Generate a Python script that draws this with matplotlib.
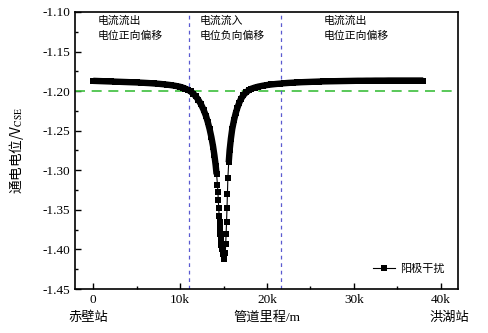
import matplotlib
matplotlib.use("Agg")
import matplotlib.pyplot as plt
import numpy as np

plt.rcParams['font.family'] = ['Liberation Serif', 'Noto Sans CJK SC']
plt.rcParams['mathtext.fontset'] = 'stix'
plt.rcParams['axes.unicode_minus'] = False

# Pipeline mileage (m) and on-potential (V vs CSE), anode interference survey
mileage_left = [0, 500, 1000, 1500, 2000, 2500, 3000, 3500, 4000, 4500, 5000, 5500,
                6000, 6500, 7000, 7500, 8000, 8500, 9000, 9500, 10000, 10300, 10600,
                10900, 11200, 11500, 11800, 12100, 12400, 12700, 13000, 13200, 13400,
                13600, 13800, 13950, 14100, 14200, 14300, 14350, 14400, 14450, 14500,
                14550, 14600, 14650, 14700, 14750, 14800, 14900, 15000]
potential_left = [-1.1870, -1.1872, -1.1874, -1.1876, -1.1878, -1.1880, -1.1882, -1.1884,
                  -1.1886, -1.1888, -1.1890, -1.1893, -1.1896, -1.1899, -1.1903, -1.1907,
                  -1.1912, -1.1918, -1.1925, -1.1934, -1.1945, -1.1955, -1.1968, -1.1983,
                  -1.2003, -1.2030, -1.2065, -1.2110, -1.2165, -1.2235, -1.2320, -1.2395,
                  -1.2480, -1.2580, -1.2700, -1.2810, -1.2940, -1.3050, -1.3180, -1.3270,
                  -1.3380, -1.3480, -1.3580, -1.3650, -1.3730, -1.3800, -1.3880, -1.3950,
                  -1.4000, -1.4060, -1.4120]
mileage_right = [15200, 15250, 15300, 15350, 15400, 15450, 15500, 15600, 15700, 15850,
                 16000, 16200, 16400, 16600, 16800, 17000, 17300, 17600, 17900, 18200,
                 18600, 19000, 19500, 20000, 20500, 21000, 21500, 22000, 22500, 23000,
                 23500, 24000, 24500, 25000, 25500, 26000, 26500, 27000, 27500, 28000,
                 28500, 29000, 29500, 30000, 30500, 31000, 31500, 32000, 32500, 33000,
                 33500, 34000, 34500, 35000, 35500, 36000, 36500, 37000, 37500, 38000]
potential_right = [-1.4050, -1.3930, -1.3800, -1.3650, -1.3480, -1.3300, -1.3100, -1.2900,
                   -1.2750, -1.2600, -1.2480, -1.2370, -1.2280, -1.2210, -1.2150, -1.2100,
                   -1.2050, -1.2015, -1.1990, -1.1970, -1.1955, -1.1943, -1.1932, -1.1923,
                   -1.1916, -1.1910, -1.1905, -1.1900, -1.1896, -1.1893, -1.1890, -1.1887,
                   -1.1885, -1.1883, -1.1881, -1.1879, -1.1877, -1.1876, -1.1875, -1.1874,
                   -1.1873, -1.1872, -1.1871, -1.1870, -1.1869, -1.1869, -1.1868, -1.1868,
                   -1.1867, -1.1867, -1.1867, -1.1866, -1.1866, -1.1866, -1.1866, -1.1866,
                   -1.1866, -1.1866, -1.1866, -1.1866]

protection_criterion = -1.20
boundary_mileage = [11000, 21600]
x_ticks = [0, 10000, 20000, 30000, 40000]
x_tick_labels = ['0', '10k', '20k', '30k', '40k']
y_ticks = [-1.45, -1.40, -1.35, -1.30, -1.25, -1.20, -1.15, -1.10]
region_notes = ['电流流出\n电位正向偏移', '电流流入\n电位负向偏移', '电流流出\n电位正向偏移']
station_names = ['赤壁站', '洪湖站']

fig = plt.figure(figsize=(4.89, 3.33), dpi=100)
ax = fig.add_axes([0.1534, 0.1321, 0.7832, 0.8319])

mileage = np.array(mileage_left + mileage_right, dtype=float)
potential = np.array(potential_left + potential_right)

# Broad stroke along the gently sloping stretches where markers merge
for xs, ys in ((mileage_left, potential_left), (mileage_right, potential_right)):
    xs = np.array(xs, dtype=float)
    ys = np.array(ys)
    keep = ys > -1.31
    ax.plot(xs[keep], ys[keep], color='black', lw=4.6, solid_capstyle='butt', zorder=3)

ax.plot(mileage, potential, color='black', lw=0.8, marker='s', markersize=4.3,
        markeredgewidth=0, label='阳极干扰', zorder=4)

ax.axhline(protection_criterion, color='#3cbf3c', lw=1.2, ls=(0, (6, 4)), zorder=2)
for b in boundary_mileage:
    ax.axvline(b, color='#5a5ad0', lw=0.9, ls=(0, (3, 3)), zorder=2)

ax.set_xlim(-2100, 42000)
ax.set_ylim(-1.45, -1.10)
ax.set_xticks(x_ticks)
ax.set_xticklabels(x_tick_labels)
ax.set_xticks([5000, 15000, 25000, 35000], minor=True)
ax.set_yticks(y_ticks)
ax.set_yticklabels([f'{v:.2f}' for v in y_ticks])
ax.set_yticks(np.arange(-1.425, -1.10, 0.05), minor=True)
ax.tick_params(which='both', direction='in', top=False, right=False, labelsize=9.5)
ax.tick_params(which='major', length=4, width=1)
ax.tick_params(which='minor', length=2.5, width=1)
for s in ax.spines.values():
    s.set_linewidth(1.2)

ax.set_xlabel('管道里程/m', fontsize=9.5, labelpad=4)
ax.set_ylabel('通电电位/V$_{\\mathrm{CSE}}$', fontsize=9.8, labelpad=12,
              family='Noto Sans CJK SC')

note_x = [500, 12200, 26500]
for nx, txt in zip(note_x, region_notes):
    ax.text(nx, -1.105, txt, fontsize=7.8, va='top', ha='left', linespacing=1.5)

ax.text(-600, -1.486, station_names[0], fontsize=9.5, ha='center', va='center',
        clip_on=False)
ax.text(41000, -1.486, station_names[1], fontsize=9.5, ha='center', va='center',
        clip_on=False)

ax.legend(loc='lower right', bbox_to_anchor=(0.99, 0.02), frameon=False, fontsize=8,
          handlelength=2.0, handletextpad=0.4)

fig.savefig('out.png', dpi=100)
